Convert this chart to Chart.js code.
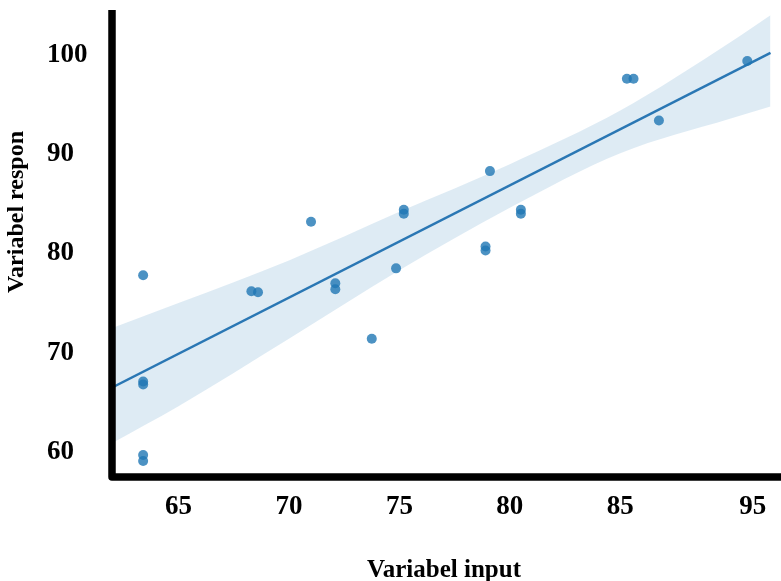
<!DOCTYPE html>
<html>
<head>
<meta charset="utf-8">
<script src="https://cdn.jsdelivr.net/npm/chart.js@4/dist/chart.umd.min.js"></script>
<style>
    body { margin: 0; background: #fff; }
    #wrap { width: 781px; height: 581px; position: relative; }
</style>
</head>
<body>
<div id="wrap"><canvas id="regChart"></canvas></div>
<script>
// observed values
const inputX = [63.4, 63.4, 63.4, 63.4, 63.4, 68.3, 68.6, 71.0, 72.1, 72.1, 73.75, 74.85,
    75.2, 75.2, 78.9, 78.9, 79.1, 80.5, 80.5, 85.3, 85.6, 86.75, 90.75];
const responY = [77.8, 67.1, 66.8, 59.7, 59.1, 76.2, 76.1, 83.2, 77.0, 76.4, 71.4, 78.5,
    84.4, 84.0, 80.7, 80.3, 88.3, 84.4, 84.0, 97.6, 97.6, 93.4, 99.4];

// regression line and its confidence band
const fitX = [62.0, 91.8];
const fitY = [66.5, 100.2];
const bandX = [62.0, 65, 70, 75, 80, 85, 90, 91.8];
const bandUpper = [72.5, 75.0, 79.3, 84.2, 89.0, 94.4, 101.3, 104.0];
const bandLower = [60.9, 64.6, 71.4, 78.3, 84.6, 90.1, 93.6, 94.8];

// axis ticks
const xTickValues = [65, 70, 75, 80, 85, 91];
const xTickLabels = ['65', '70', '75', '80', '85', '95'];
const yTickValues = [60, 70, 80, 90, 100];

const toPoints = (xs, ys) => xs.map((x, i) => ({ x: x, y: ys[i] }));

const serif = 'Liberation Serif, Times New Roman, serif';

// thick black axes with a rounded corner + rotated y title
const axesPlugin = {
    id: 'axes',
    afterDraw(chart) {
        const ctx = chart.ctx;
        const a = chart.chartArea;
        ctx.save();
        ctx.strokeStyle = '#000';
        ctx.lineWidth = 7.5;
        ctx.lineJoin = 'round';
        ctx.beginPath();
        ctx.moveTo(a.left, a.top);
        ctx.lineTo(a.left, a.bottom);
        ctx.lineTo(chart.width, a.bottom);
        ctx.stroke();

        ctx.translate(17, 212);
        ctx.rotate(-Math.PI / 2);
        ctx.fillStyle = '#000';
        ctx.font = 'bold 24px ' + serif;
        ctx.textAlign = 'center';
        ctx.textBaseline = 'middle';
        ctx.fillText('Variabel respon', 0, 0);
        ctx.restore();
    }
};

// no extra room for overhanging end labels
const noEdgePadding = scale => {
    scale.paddingLeft = 0;
    scale.paddingRight = 0;
    scale.paddingTop = 0;
    scale.paddingBottom = 0;
};

const ctx = document.getElementById('regChart').getContext('2d');
new Chart(ctx, {
    type: 'scatter',
    data: {
        datasets: [{
            type: 'line',
            data: toPoints(bandX, bandUpper),
            borderWidth: 0,
            pointRadius: 0,
            cubicInterpolationMode: 'monotone',
            backgroundColor: 'rgba(31, 119, 180, 0.15)',
            fill: '+1',
            order: 4,
        }, {
            type: 'line',
            data: toPoints(bandX, bandLower),
            borderWidth: 0,
            pointRadius: 0,
            cubicInterpolationMode: 'monotone',
            fill: false,
            order: 3,
        }, {
            type: 'line',
            data: toPoints(fitX, fitY),
            borderColor: '#2a77b4',
            borderWidth: 2.5,
            pointRadius: 0,
            fill: false,
            order: 1,
        }, {
            data: toPoints(inputX, responY),
            backgroundColor: 'rgba(31, 119, 180, 0.8)',
            borderWidth: 0,
            pointRadius: 5,
            order: 0,
        }],
    },
    options: {
        responsive: true,
        maintainAspectRatio: false,
        animation: false,
        layout: { padding: { top: 10, left: 47, right: 0, bottom: 0 } },
        plugins: {
            legend: { display: false },
            tooltip: { enabled: false },
        },
        scales: {
            x: {
                type: 'linear',
                min: 61.99,
                max: 92.05,
                grid: { display: false },
                border: { display: false },
                afterBuildTicks: scale => { scale.ticks = xTickValues.map(v => ({ value: v })); },
                afterFit: scale => { scale.height = 104; noEdgePadding(scale); },
                ticks: {
                    padding: 6,
                    color: '#000',
                    font: { family: serif, size: 27, weight: 'bold' },
                    callback: (value, index) => xTickLabels[index],
                },
                title: {
                    display: true,
                    text: 'Variabel input',
                    color: '#000',
                    font: { family: serif, size: 25, weight: 'bold' },
                    padding: { top: 0, bottom: -5 },
                },
            },
            y: {
                type: 'linear',
                min: 57.48,
                max: 104.53,
                grid: { display: false },
                border: { display: false },
                afterBuildTicks: scale => { scale.ticks = yTickValues.map(v => ({ value: v })); },
                afterFit: scale => { scale.width = 65; noEdgePadding(scale); },
                ticks: {
                    crossAlign: 'far',
                    color: '#000',
                    font: { family: serif, size: 27, weight: 'bold' },
                },
            },
        },
    },
    plugins: [axesPlugin],
});
</script>
</body>
</html>
